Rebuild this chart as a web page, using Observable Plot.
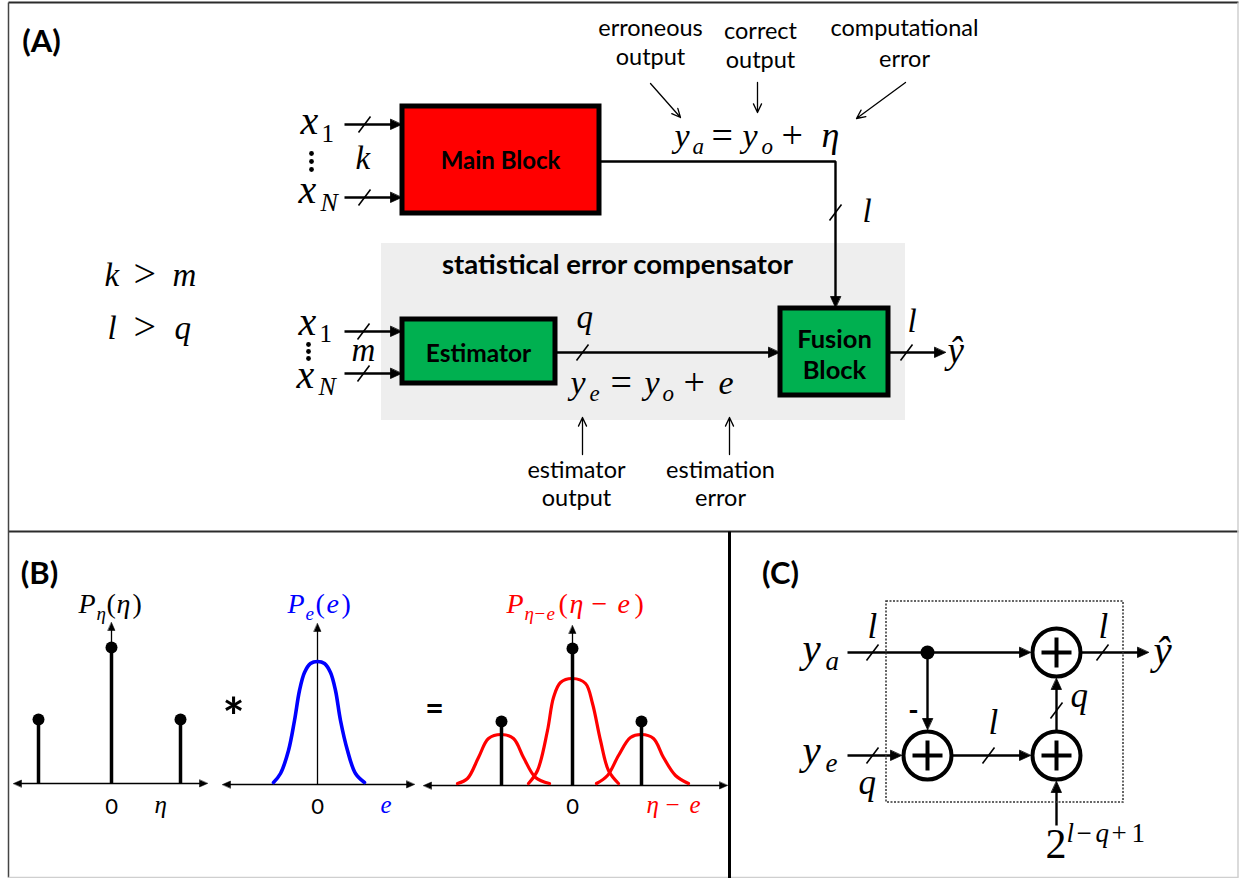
<!DOCTYPE html>
<html><head><meta charset="utf-8">
<script src="https://cdn.jsdelivr.net/npm/d3@7"></script>
<script src="https://cdn.jsdelivr.net/npm/@observablehq/plot@0.6"></script>
<style>body{margin:0;background:#fff}</style>
</head><body><div id="chart"></div>
<script>
const W = 1239, H = 878;
const SANS = "Lato, 'Open Sans', sans-serif";
const SERIF = "'Liberation Serif', 'DejaVu Serif', serif";

// ---------- frame ----------
const frameDark = [
  {x1:8, y1:2, x2:1238, y2:2},
  {x1:8, y1:531, x2:1238, y2:531}
];
const frameLeft = [{x1:8, y1:2, x2:8, y2:877}];
const frameLight = [
  {x1:1237.5, y1:2, x2:1237.5, y2:877},
  {x1:8, y1:877, x2:1238, y2:877}
];
const dividerC = [{x1:729, y1:531, x2:729, y2:878}];

// ---------- panel A ----------
const compensator = [{x1:381, x2:905, y1:243, y2:420}];
const blocks = [
  {name:"main", x1:402, x2:599, y1:106, y2:213},
  {name:"estimator", x1:402, x2:555, y1:319, y2:383},
  {name:"fusion", x1:780, x2:888, y1:308, y2:395}
];
const blockColor = {main:"#ff0000", estimator:"#00b050", fusion:"#00b050"};
const boldLabels = [
  {t:"(A)", x:41, y:51, s:31},
  {t:"(B)", x:39, y:583, s:31},
  {t:"(C)", x:780, y:583, s:31},
  {t:"Main Block", x:500, y:168, s:24},
  {t:"Estimator", x:478, y:361, s:24.5},
  {t:"Fusion", x:834, y:347, s:25.5},
  {t:"Block", x:834, y:378, s:25.5},
  {t:"statistical error compensator", x:617, y:273, s:27.5}
];
const notes = [
  {t:"erroneous", x:650, y:35}, {t:"output", x:650, y:64},
  {t:"correct", x:760, y:38}, {t:"output", x:760, y:67},
  {t:"computational", x:904, y:35}, {t:"error", x:904, y:66},
  {t:"estimator", x:576, y:477}, {t:"output", x:576, y:505},
  {t:"estimation", x:720, y:477}, {t:"error", x:720, y:505}
];
const noteArrows = [
  {x1:650, y1:83, x2:680, y2:117},
  {x1:757, y1:82, x2:757, y2:112},
  {x1:905, y1:82, x2:856, y2:118},
  {x1:582, y1:454, x2:582, y2:417},
  {x1:729, y1:454, x2:729, y2:417}
];
// wires: polylines, ending in a filled arrowhead
const wires = [
  {id:"a1", pts:[[344,124],[401,124]]},
  {id:"a2", pts:[[344,197],[401,197]]},
  {id:"a3", pts:[[599,161],[835,161],[835,307]]},
  {id:"a4", pts:[[344,331],[401,331]]},
  {id:"a5", pts:[[344,373],[401,373]]},
  {id:"a6", pts:[[555,352],[779,352]]},
  {id:"a7", pts:[[888,352],[945,352]]},
  {id:"c1", pts:[[847,652],[1030,652]]},
  {id:"c2", pts:[[1081,652],[1148,652]]},
  {id:"c3", pts:[[927,652],[927,729]]},
  {id:"c4", pts:[[847,755],[901,755]]},
  {id:"c5", pts:[[952,755],[1030,755]]},
  {id:"c6", pts:[[1056,730],[1056,678]]},
  {id:"c7", pts:[[1056,825],[1056,781]]}
];
// bus-width slashes
const slashes = [
  {x:364, y:124}, {x:364, y:197}, {x:363, y:331}, {x:363, y:373},
  {x:582, y:352}, {x:835, y:212}, {x:906, y:352},
  {x:872, y:652}, {x:1102, y:652}, {x:872, y:755}, {x:988, y:755}, {x:1056, y:710}
];
const vdots = [
  {x:311, y:153}, {x:311, y:161}, {x:311, y:169},
  {x:308, y:344}, {x:308, y:351}, {x:308, y:358}
];
// math pieces (x = left edge, y = baseline)
const mathItalic = [
  {t:"y", x:674, y:146, s:34}, {t:"a", x:692, y:153, s:23}, {t:"y", x:742, y:146, s:34},
  {t:"o", x:761, y:153, s:23}, {t:"η", x:821, y:146, s:36},
  {t:"x", x:300, y:133, s:40}, {t:"k", x:355, y:168, s:33}, {t:"x", x:298, y:202, s:40}, {t:"N", x:320, y:210, s:26},
  {t:"x", x:298, y:334, s:40}, {t:"m", x:351, y:360, s:33}, {t:"x", x:296, y:387, s:40}, {t:"N", x:318, y:394, s:26},
  {t:"q", x:576, y:327, s:33}, {t:"l", x:862, y:221, s:33}, {t:"l", x:907, y:331, s:33}, {t:"ŷ", x:947, y:362, s:37},
  {t:"y", x:570, y:393, s:34}, {t:"e", x:589, y:400, s:23}, {t:"y", x:644, y:393, s:34},
  {t:"o", x:662, y:400, s:23}, {t:"e", x:718, y:393, s:34},
  {t:"k", x:104, y:285, s:33}, {t:"m", x:172, y:285, s:33}, {t:"l", x:107, y:338, s:33}, {t:"q", x:174, y:338, s:33},
  {t:"P", x:78, y:612, s:28}, {t:"η", x:96, y:619, s:19}, {t:"η", x:116, y:612, s:28},
  {t:"η", x:154, y:812, s:25},
  {t:"y", x:802, y:661, s:41}, {t:"a", x:825, y:669, s:27},
  {t:"y", x:802, y:763, s:41}, {t:"e", x:825, y:771, s:27},
  {t:"l", x:867, y:637, s:35}, {t:"l", x:1098, y:637, s:35}, {t:"l", x:988, y:733, s:35},
  {t:"q", x:1070, y:706, s:35}, {t:"q", x:858, y:793, s:35}, {t:"ŷ", x:1153, y:663, s:41},
  {t:"l", x:1066, y:841, s:27}, {t:"q", x:1095, y:841, s:27}
];
const mathUpright = [
  {t:"=", x:711, y:147, s:38}, {t:"+", x:781, y:147, s:38},
  {t:"1", x:321, y:141, s:25}, {t:"1", x:319, y:341, s:25},
  {t:"=", x:610, y:394, s:38}, {t:"+", x:683, y:394, s:38},
  {t:">", x:133, y:286, s:40}, {t:">", x:133, y:339, s:40},
  {t:"(", x:106, y:612, s:28}, {t:")", x:132, y:612, s:28},
  {t:"2", x:1045, y:857, s:42},
  {t:"−", x:1076, y:841, s:27}, {t:"+", x:1111, y:841, s:27}, {t:"1", x:1131, y:841, s:27}
];
const mathBlue = [
  {t:"P", x:287, y:612, s:28, it:true}, {t:"e", x:305, y:619, s:19, it:true},
  {t:"(", x:315, y:612, s:28, it:false}, {t:"e", x:326, y:612, s:28, it:true}, {t:")", x:341, y:612, s:28, it:false},
  {t:"e", x:380, y:812, s:25, it:true}
];
const mathRed = [
  {t:"P", x:506, y:612, s:28, it:true}, {t:"η", x:524, y:619, s:19, it:true}, {t:"−", x:534, y:619, s:19, it:false},
  {t:"e", x:546, y:619, s:19, it:true}, {t:"(", x:558, y:612, s:28, it:false}, {t:"η", x:569, y:612, s:28, it:true},
  {t:"−", x:591, y:612, s:28, it:false}, {t:"e", x:617, y:612, s:28, it:true}, {t:")", x:634, y:612, s:28, it:false},
  {t:"η", x:646, y:812, s:25, it:true}, {t:"−", x:665, y:812, s:25, it:false}, {t:"e", x:689, y:812, s:25, it:true}
];
const plainSans = [
  {t:"0", x:111, y:813, s:22}, {t:"0", x:317, y:813, s:22}, {t:"0", x:572, y:813, s:22}
];
const operators = [
  {t:"*", x:233, y:735, s:52}, {t:"=", x:434, y:719, s:32}, {t:"-", x:913, y:719, s:28}
];

// ---------- panel B ----------
const axesH = [
  {x1:13, x2:207, y:783}, {x1:222, x2:414, y:784}, {x1:423, x2:727, y:785}
];
const axesV = [
  {x:111, y1:783, y2:622}, {x:317, y1:784, y2:623}, {x:572, y1:785, y2:625}
];
const stems = [
  {x:38, y1:783, y2:719}, {x:111, y1:783, y2:647}, {x:180, y1:783, y2:719},
  {x:501, y1:785, y2:721}, {x:572, y1:785, y2:648}, {x:641, y1:785, y2:721}
];
const bluePdf = [
  [273,782],[280,773],[288,750],[294,720],[299,690],[304,672],[310,663],[317,661],
  [324,663],[330,672],[335,690],[340,720],[347,750],[355,773],[364,782]
];
const redPdfLeft = [
  [457,783],[467,778],[478,757],[488,738],[501,734],[513,738],[523,757],[535,777],[549,783]
];
const redPdfCenter = [
  [528,783],[537,770],[547,730],[553,697],[560,682],[572,678],[585,683],[592,703],[600,740],[608,770],[618,783]
];
const redPdfRight = [
  [596,783],[607,775],[618,755],[630,737],[641,734],[653,738],[663,757],[675,775],[688,783]
];

// ---------- panel C ----------
const dottedBox = [{x1:886, x2:1123, y1:601, y2:802}];
const adders = [{x:927, y:755}, {x:1056, y:652}, {x:1056, y:755}];
const junction = [{x:927, y:652}];

// ---------- derived geometry ----------
function arrowHead(id, x1, y1, x2, y2, len, hw) {
  const dx = x2 - x1, dy = y2 - y1, L = Math.hypot(dx, dy), ux = dx / L, uy = dy / L;
  const bx = x2 - ux * len, by = y2 - uy * len;
  return [
    {id, x: x2, y: y2},
    {id, x: bx - uy * hw, y: by + ux * hw},
    {id, x: bx + uy * hw, y: by - ux * hw}
  ];
}
const wirePts = [], heads = [];
for (const w of wires) {
  const p = w.pts, n = p.length;
  const [ax, ay] = p[n - 2], [bx, by] = p[n - 1];
  const L = Math.hypot(bx - ax, by - ay);
  p.forEach(([x, y], i) => {
    if (i === n - 1) { x = bx - (bx - ax) / L * 6; y = by - (by - ay) / L * 6; }
    wirePts.push({id: w.id, x, y});
  });
  heads.push(...arrowHead(w.id, ax, ay, bx, by, 11, 5));
}
const axisLines = [], axisHeads = [];
axesH.forEach((a, i) => {
  axisLines.push({x1:a.x1 + 3, y1:a.y, x2:a.x2 - 3, y2:a.y});
  axisHeads.push(...arrowHead("hl" + i, a.x2, a.y, a.x1, a.y, 8, 3.5));
  axisHeads.push(...arrowHead("hr" + i, a.x1, a.y, a.x2, a.y, 8, 3.5));
});
axesV.forEach((a, i) => {
  axisLines.push({x1:a.x, y1:a.y1, x2:a.x, y2:a.y2 + 3});
  axisHeads.push(...arrowHead("v" + i, a.x, a.y1, a.x, a.y2, 8, 3.5));
});
const slashSegs = slashes.map(s => ({x1:s.x - 6, y1:s.y + 8, x2:s.x + 6, y2:s.y - 8}));
const plusSegs = adders.flatMap(a => [
  {x1:a.x - 15, y1:a.y, x2:a.x + 15, y2:a.y},
  {x1:a.x, y1:a.y - 15, x2:a.x, y2:a.y + 15}
]);
const curve = (pts) => pts.map(([x, y]) => ({x, y}));

const textBase = {x:"x", y:"y", text:"t", fontSize:"s", lineAnchor:"bottom"};

const chart = Plot.plot({
  width: W, height: H, margin: 0,
  x: {domain:[0, W], range:[0, W], axis:null},
  y: {domain:[0, H], range:[0, H], axis:null},
  color: {type:"identity"},
  style: {background:"white"},
  marks: [
    Plot.link(frameDark, {x1:"x1", y1:"y1", x2:"x2", y2:"y2", stroke:"#2b2b2b", strokeWidth:2}),
    Plot.link(frameLeft, {x1:"x1", y1:"y1", x2:"x2", y2:"y2", stroke:"#444", strokeWidth:1.5}),
    Plot.link(frameLight, {x1:"x1", y1:"y1", x2:"x2", y2:"y2", stroke:"#cfcfcf", strokeWidth:1.5}),
    Plot.link(dividerC, {x1:"x1", y1:"y1", x2:"x2", y2:"y2", stroke:"#000", strokeWidth:3}),
    // panel A
    Plot.rect(compensator, {x1:"x1", x2:"x2", y1:"y1", y2:"y2", fill:"#eeeeee"}),
    Plot.line(wirePts, {x:"x", y:"y", z:"id", stroke:"#000", strokeWidth:2.4, strokeLinecap:"butt", strokeLinejoin:"miter"}),
    Plot.line(heads, {x:"x", y:"y", z:"id", fill:"#000", stroke:"#000", strokeWidth:0.8, curve:"linear-closed"}),
    Plot.rect(blocks, {x1:"x1", x2:"x2", y1:"y1", y2:"y2", fill:d => blockColor[d.name], stroke:"#000", strokeWidth:5}),
    Plot.link(slashSegs, {x1:"x1", y1:"y1", x2:"x2", y2:"y2", stroke:"#000", strokeWidth:1.6}),
    Plot.dot(vdots, {x:"x", y:"y", r:2.4, fill:"#000", stroke:null}),
    Plot.arrow(noteArrows, {x1:"x1", y1:"y1", x2:"x2", y2:"y2", stroke:"#000", strokeWidth:1.3, headLength:11, headAngle:50}),
    Plot.text(notes, {x:"x", y:"y", text:"t", lineAnchor:"bottom", fontSize:23.5, fontFamily:SANS, fill:"#000"}),
    Plot.text(boldLabels, {...textBase, fontFamily:SANS, fontWeight:"bold", fill:"#000"}),
    // panel B
    Plot.link(axisLines, {x1:"x1", y1:"y1", x2:"x2", y2:"y2", stroke:"#000", strokeWidth:1.3}),
    Plot.line(axisHeads, {x:"x", y:"y", z:"id", fill:"#000", stroke:"#000", strokeWidth:0.5, curve:"linear-closed"}),
    Plot.line(curve(bluePdf), {x:"x", y:"y", stroke:"#0000ff", strokeWidth:3.6, curve:"catmull-rom"}),
    Plot.line(curve(redPdfLeft), {x:"x", y:"y", stroke:"#ff0000", strokeWidth:3.2, curve:"catmull-rom"}),
    Plot.line(curve(redPdfCenter), {x:"x", y:"y", stroke:"#ff0000", strokeWidth:3.2, curve:"catmull-rom"}),
    Plot.line(curve(redPdfRight), {x:"x", y:"y", stroke:"#ff0000", strokeWidth:3.2, curve:"catmull-rom"}),
    Plot.ruleX(stems, {x:"x", y1:"y1", y2:"y2", stroke:"#000", strokeWidth:3.5}),
    Plot.dot(stems, {x:"x", y:"y2", r:6, fill:"#000", stroke:null}),
    Plot.text(plainSans, {...textBase, fontFamily:SANS, fill:"#000"}),
    Plot.text(operators, {...textBase, fontFamily:SANS, fontWeight:"bold", fill:"#000"}),
    // panel C
    Plot.rect(dottedBox, {x1:"x1", x2:"x2", y1:"y1", y2:"y2", fill:"none", stroke:"#333", strokeWidth:1.5, strokeDasharray:"2,1.5"}),
    Plot.dot(adders, {x:"x", y:"y", r:24, fill:"#fff", stroke:"#000", strokeWidth:4}),
    Plot.link(plusSegs, {x1:"x1", y1:"y1", x2:"x2", y2:"y2", stroke:"#000", strokeWidth:4}),
    Plot.dot(junction, {x:"x", y:"y", r:7, fill:"#000", stroke:null}),
    // math text
    Plot.text(mathItalic, {...textBase, textAnchor:"start", fontFamily:SERIF, fontStyle:"italic", fill:"#000"}),
    Plot.text(mathUpright, {...textBase, textAnchor:"start", fontFamily:SERIF, fill:"#000"}),
    Plot.text(mathBlue.filter(d => d.it), {...textBase, textAnchor:"start", fontFamily:SERIF, fontStyle:"italic", fill:"#0000ff"}),
    Plot.text(mathBlue.filter(d => !d.it), {...textBase, textAnchor:"start", fontFamily:SERIF, fill:"#0000ff"}),
    Plot.text(mathRed.filter(d => d.it), {...textBase, textAnchor:"start", fontFamily:SERIF, fontStyle:"italic", fill:"#ff0000"}),
    Plot.text(mathRed.filter(d => !d.it), {...textBase, textAnchor:"start", fontFamily:SERIF, fill:"#ff0000"})
  ]
});
document.getElementById("chart").appendChild(chart);
</script>
</body></html>
